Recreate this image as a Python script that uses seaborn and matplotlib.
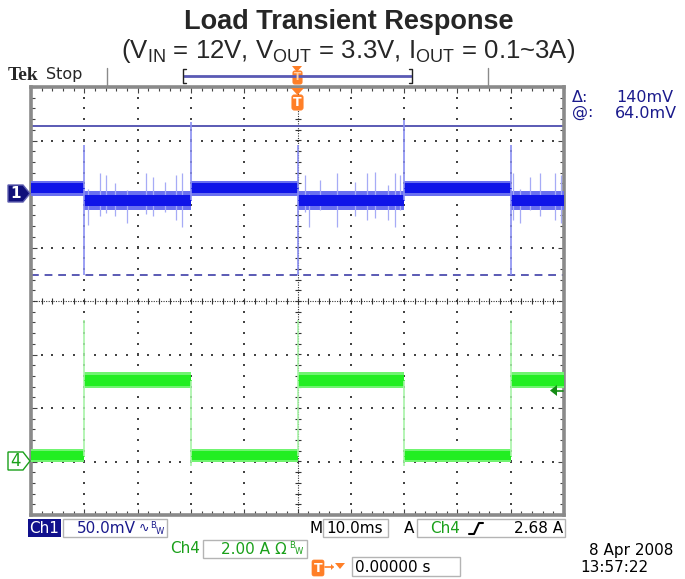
import numpy as np
import pandas as pd
import matplotlib
matplotlib.use("Agg")
import matplotlib.pyplot as plt
import seaborn as sns
from matplotlib.patches import Rectangle, Polygon, FancyBboxPatch
from matplotlib.ticker import MultipleLocator

# ---------------- data ----------------
edges_ms = [-50, -40, -20, 0, 20, 40, 50]          # segment boundaries, 10 ms/div
ch1_level_mv = [5.5, -6.0, 5.5, -6.0, 5.5, -6.0]    # Vout ripple band centre (AC)
ch1_core_mv = [4.5, 5.0, 4.5, 5.0, 4.5, 5.0]        # dense noise half width
ch1_fringe_mv = [7.0, 8.5, 7.0, 8.5, 7.0, 8.5]      # faint noise half width
ch4_level_a = [0.22, 3.03, 0.22, 3.03, 0.22, 3.03]  # Iout
ch4_core_a = [0.16, 0.20, 0.16, 0.20, 0.16, 0.20]
ch4_fringe_a = [0.24, 0.30, 0.24, 0.30, 0.24, 0.30]

transition_ms = [-40, -20, 0, 20, 40]
ch1_edge_top_mv = [46, 67, 46, 69, 46]
ch1_edge_bot_mv = [-76, -6, -76, -6, -76]
ch4_edge_top_a = [5.3, 3.03, 5.3, 3.03, 5.3]
ch4_edge_bot_a = [0.22, -0.15, 0.22, -0.15, 0.22]

spike_t_ms = [-39.3, -37.1, -35.9, -34.2, -32.0, -28.4, -27.1, -24.9, -22.8, -21.7,
              1.4, 2.2, 4.2, 7.4, 10.8, 13.0, 14.5, 17.0, 18.3, 19.2,
              40.4, 41.7, 43.6, 45.5, 48.3, 49.4]
spike_top_mv = [5, 20, 18, 10, 4, 20, 16, 11, 18, 20,
                18, 0, 13, 20, 11, 20, 21, 8, 20, 18,
                20, 5, 16, 20, 20, 18]
spike_bot_mv = [-29, -21, -18, -21, -27, -19, -21, -17, -24, -31,
                -17, -31, -15, -31, -21, -24, -22, -24, -31, -15,
                -24, -27, -15, -21, -24, -27]

cursor_top_mv = 64.0
cursor_delta_mv = 140.0
trigger_level_a = 2.68
ch1_mv_per_div, ch1_offset_div = 50.0, 2.0
ch4_a_per_div, ch4_offset_div = 2.0, -3.0

# ---------------- style ----------------
sns.set_style("white")
plt.rcParams['font.family'] = ['DejaVu Sans']
plt.rcParams['mathtext.fontset'] = 'custom'
plt.rcParams['mathtext.rm'] = 'Liberation Sans'

BLUE = '#0f14e8'
BLUE_L = '#a6abf6'
BLUE_F = '#6a70f0'
GREEN = '#22ee22'
GREEN_L = '#a8f4a8'
GREEN_F = '#70f470'
CURSOR = '#5a5ab4'
NAVY = '#1a1a8c'
TXTGREEN = '#1aa01a'
ORANGE = '#ff7f27'

W, H = 685, 579
fig = plt.figure(figsize=(W / 100, H / 100), dpi=100)
L, R, T, B = 31, 564, 87, 515
ax = fig.add_axes([L / W, 1 - B / H, (R - L) / W, (B - T) / H])
ax.set_xlim(-50, 50)
ax.set_ylim(-4, 4)


def d1(v):
    return np.asarray(v, float) / ch1_mv_per_div + ch1_offset_div


def d4(v):
    return np.asarray(v, float) / ch4_a_per_div + ch4_offset_div


# graticule dots
minor_x = np.arange(-50, 50.01, 2.0)
minor_y = np.arange(-4, 4.01, 0.2)
for gx in range(-40, 41, 10):
    if gx == 0:
        continue
    ax.scatter(np.full(len(minor_y), gx), minor_y, s=1.6, marker='s', color='#444444',
               linewidths=0, zorder=1)
for gy in range(-3, 4):
    if gy == 0:
        continue
    ax.scatter(minor_x, np.full(len(minor_x), gy), s=1.6, marker='s', color='#444444',
               linewidths=0, zorder=1)
ax.axhline(0, color='#333333', lw=0.8, ls=(0, (1, 1.2)), zorder=1)
ax.axvline(0, color='#333333', lw=0.8, ls=(0, (1, 1.2)), zorder=1)
ax.scatter(minor_x, np.zeros_like(minor_x), marker='|', s=14, color='#333333', lw=0.8, zorder=1)
ax.scatter(np.zeros_like(minor_y), minor_y, marker='_', s=14, color='#333333', lw=0.8, zorder=1)

# cursors
ax.axhline(float(d1(cursor_top_mv)), color=CURSOR, lw=1.4, zorder=2)
ax.axhline(float(d1(cursor_top_mv - cursor_delta_mv)), color=CURSOR, lw=1.4,
           ls=(0, (4, 3)), zorder=2)

# noise bands
for i in range(len(ch1_level_mv)):
    t0, t1 = edges_ms[i], edges_ms[i + 1]
    c = ch1_level_mv[i]
    ax.fill_between([t0, t1], d1(c - ch1_fringe_mv[i]), d1(c + ch1_fringe_mv[i]),
                    color=BLUE_F, lw=0, zorder=3)
    ax.fill_between([t0, t1], d1(c - ch1_core_mv[i]), d1(c + ch1_core_mv[i]),
                    color=BLUE, lw=0, zorder=4)
    c4 = ch4_level_a[i]
    ax.fill_between([t0, t1], d4(c4 - ch4_fringe_a[i]), d4(c4 + ch4_fringe_a[i]),
                    color=GREEN_F, lw=0, zorder=3)
    ax.fill_between([t0, t1], d4(c4 - ch4_core_a[i]), d4(c4 + ch4_core_a[i]),
                    color=GREEN, lw=0, zorder=4)

# spikes & edges
ax.vlines(spike_t_ms, d1(spike_bot_mv), d1(spike_top_mv), color=BLUE_L, lw=0.9, zorder=3.5)
ax.vlines(transition_ms, d1(ch1_edge_bot_mv), d1(ch1_edge_top_mv), color='#8a8ff2', lw=1.2, zorder=5)
ax.vlines(transition_ms, d4(ch4_edge_bot_a), d4(ch4_edge_top_a), color=GREEN_L, lw=1.2, zorder=5)

# trace centre lines through seaborn
rows = []
for i in range(len(ch1_level_mv)):
    for t in (edges_ms[i], edges_ms[i + 1]):
        rows.append(dict(t=t, seg=i, ch1=float(d1(ch1_level_mv[i])), ch4=float(d4(ch4_level_a[i]))))
df = pd.DataFrame(rows)
sns.lineplot(data=df, x='t', y='ch1', units='seg', estimator=None, color=BLUE, lw=0.6,
             ax=ax, zorder=6, legend=False)
sns.lineplot(data=df, x='t', y='ch4', units='seg', estimator=None, color=GREEN, lw=0.6,
             ax=ax, zorder=6, legend=False)

ax.set_xlim(-50, 50)
ax.set_ylim(-4, 4)
ax.set_xlabel('')
ax.set_ylabel('')
ax.xaxis.set_major_locator(MultipleLocator(10))
ax.xaxis.set_minor_locator(MultipleLocator(2))
ax.yaxis.set_major_locator(MultipleLocator(1))
ax.yaxis.set_minor_locator(MultipleLocator(0.2))
ax.tick_params(which='both', direction='in', top=True, right=True, bottom=True, left=True,
               labelbottom=False, labelleft=False, color='#444444', width=0.8)
ax.tick_params(which='major', length=4)
ax.tick_params(which='minor', length=3)
for s in ax.spines.values():
    s.set_color('#8a8a8a')
    s.set_linewidth(2.6)

# ---------------- overlay (screen furniture) ----------------
ov = fig.add_axes([0, 0, 1, 1], zorder=5)
ov.set_xlim(0, W)
ov.set_ylim(H, 0)
ov.axis('off')

ov.text(349, 22, "Load Transient Response", ha='center', va='center', fontsize=19.5,
        fontweight='bold', family='Liberation Sans')
ov.text(348, 51, r"(V$_{\mathregular{IN}}$ = 12V, V$_{\mathregular{OUT}}$ = 3.3V, "
                 r"I$_{\mathregular{OUT}}$ = 0.1~3A)",
        ha='center', va='center', fontsize=18.5, family='Liberation Sans')

ov.text(8, 76, "Tek", ha='left', va='center', fontsize=14, fontweight='bold',
        family='Liberation Serif')
ov.text(46, 75, "Stop", ha='left', va='center', fontsize=11.5)

# record bar
ov.plot([107, 107], [68, 86], color='#8a8a8a', lw=1)
ov.plot([488, 488], [68, 86], color='#8a8a8a', lw=1)
ov.plot([184, 411], [76, 76], color=CURSOR, lw=2)
ov.plot([186, 183, 183, 186], [69, 69, 83, 83], color='#222222', lw=1)
ov.plot([409, 412, 412, 409], [69, 69, 83, 83], color='#222222', lw=1)
ov.add_patch(Polygon([(292, 66), (302, 66), (297, 72)], closed=True, color=ORANGE, lw=0))
ov.add_patch(FancyBboxPatch((293, 71), 9, 13, boxstyle='round,pad=0,rounding_size=2',
                            fc=ORANGE, ec=ORANGE, lw=0.8))
ov.text(297.5, 77.5, "T", ha='center', va='center', fontsize=7.5, color='#ffd0a8',
        fontweight='bold')
ov.add_patch(Polygon([(291, 88), (304, 88), (297.5, 95)], closed=True, color=ORANGE, lw=0))
ov.add_patch(FancyBboxPatch((292, 95), 11, 15, boxstyle='round,pad=0,rounding_size=2.5',
                            fc=ORANGE, ec=ORANGE, lw=0.8))
ov.text(297.5, 102.5, "T", ha='center', va='center', fontsize=9, color='white',
        fontweight='bold')

# cursor readout
ov.text(572, 97, "Δ:", ha='left', va='center', fontsize=11.5, color=NAVY)
ov.text(673, 97, "140mV", ha='right', va='center', fontsize=11.5, color=NAVY)
ov.text(572, 113, "@:", ha='left', va='center', fontsize=11.5, color=NAVY)
ov.text(677, 113, "64.0mV", ha='right', va='center', fontsize=11.5, color=NAVY)

# channel markers
ov.add_patch(Polygon([(8, 185), (23, 185), (30, 193.5), (23, 202), (8, 202)], closed=True,
                     fc='#10107a', ec='#6060b0', lw=1))
ov.text(15.5, 193.5, "1", ha='center', va='center', fontsize=11, color='white', fontweight='bold')
ov.add_patch(Polygon([(8, 452), (23, 452), (30, 461), (23, 470), (8, 470)], closed=True,
                     fc='white', ec=TXTGREEN, lw=1))
ov.text(16, 461, "4", ha='center', va='center', fontsize=12, color=TXTGREEN)

# trigger level marker
ov.add_patch(Polygon([(550, 390.5), (557, 385), (557, 396)], closed=True, color='#148c14', lw=0))
ov.plot([556, 563], [390.5, 390.5], color='#148c14', lw=1.2)

# bottom readouts
box_ec = '#b4b4b4'
ov.add_patch(Rectangle((28, 519), 33, 18, fc='#10108c', ec='#10108c', lw=0))
ov.text(44.5, 528.5, "Ch1", ha='center', va='center', fontsize=11, color='white')
ov.add_patch(Rectangle((63, 519), 104, 18, fc='none', ec=box_ec, lw=1))
ov.text(77, 528.5, "50.0mV", ha='left', va='center', fontsize=11, color=NAVY)
ov.text(139, 528.5, "∿", ha='left', va='center', fontsize=9, color=NAVY)
ov.text(150, 525, "B", ha='left', va='center', fontsize=6, color=NAVY)
ov.text(156, 532, "W", ha='left', va='center', fontsize=6, color=NAVY)

ov.text(310, 528.5, "M", ha='left', va='center', fontsize=11, color='black')
ov.add_patch(Rectangle((323, 519), 65, 18, fc='none', ec=box_ec, lw=1))
ov.text(326, 528.5, "10.0ms", ha='left', va='center', fontsize=11, color='black')
ov.text(404, 528.5, "A", ha='left', va='center', fontsize=11, color='black')
ov.add_patch(Rectangle((417, 519), 148, 18, fc='none', ec=box_ec, lw=1))
ov.text(430, 528.5, "Ch4", ha='left', va='center', fontsize=11, color=TXTGREEN)
ov.plot([469, 474, 479, 483], [534, 534, 523, 523], color='black', lw=1.5)
ov.text(563, 528.5, "2.68 A", ha='right', va='center', fontsize=11, color='black')

ov.text(170, 548.5, "Ch4", ha='left', va='center', fontsize=11, color=TXTGREEN)
ov.add_patch(Rectangle((203, 540), 104, 18, fc='none', ec=box_ec, lw=1))
ov.text(221, 549, "2.00 A", ha='left', va='center', fontsize=11, color=TXTGREEN)
ov.text(274, 549, "Ω", ha='left', va='center', fontsize=11, color=TXTGREEN)
ov.text(289, 545, "B", ha='left', va='center', fontsize=6, color=TXTGREEN)
ov.text(295, 552, "W", ha='left', va='center', fontsize=6, color=TXTGREEN)

ov.add_patch(FancyBboxPatch((312, 560), 12, 16, boxstyle='round,pad=0,rounding_size=2',
                            fc=ORANGE, ec=ORANGE, lw=0.5))
ov.text(318, 568, "T", ha='center', va='center', fontsize=9, color='white', fontweight='bold')
ov.plot([325, 333], [567, 567], color=ORANGE, lw=1.2)
ov.add_patch(Polygon([(331, 564), (331, 570), (334, 567)], closed=True, color=ORANGE, lw=0))
ov.add_patch(Polygon([(335, 563), (345, 563), (340, 569)], closed=True, color=ORANGE, lw=0))
ov.add_patch(Rectangle((352, 557), 108, 19, fc='none', ec=box_ec, lw=1))
ov.text(355, 567, "0.00000 s", ha='left', va='center', fontsize=11, color='black')

ov.text(589, 551, "8 Apr 2008", ha='left', va='center', fontsize=11, color='black')
ov.text(580, 568, "13:57:22", ha='left', va='center', fontsize=11, color='black')

fig.savefig("out.png", dpi=100)
